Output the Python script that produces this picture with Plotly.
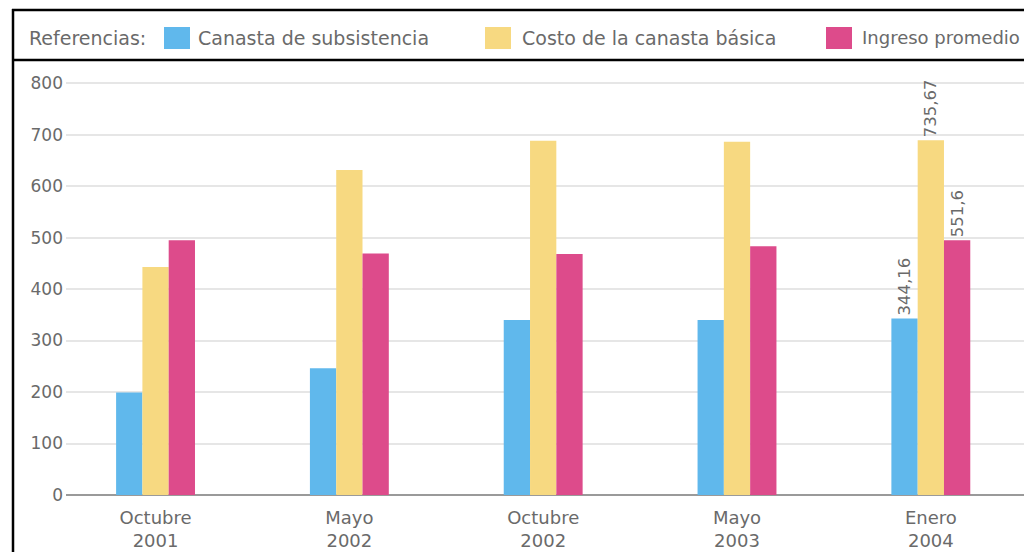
import plotly.graph_objects as go

# ---- data ----
categories = ["Octubre<br>2001", "Mayo<br>2002", "Octubre<br>2002", "Mayo<br>2003", "Enero<br>2004"]
canasta_subsistencia = [199, 246, 340, 340, 343]
costo_canasta_basica = [443, 631, 688, 686, 689]
ingreso_promedio = [495, 469, 468, 483, 495]
labels_subsistencia = ["", "", "", "", "344,16"]
labels_basica = ["", "", "", "", "735,67"]
labels_ingreso = ["", "", "", "", "551,6"]
y_ticks = [0, 100, 200, 300, 400, 500, 600, 700, 800]
series_names = ["Canasta de subsistencia", "Costo de la canasta básica", "Ingreso promedio"]
series_colors = ["#60b8ec", "#f7d981", "#dd4b8b"]
legend_title = "Referencias:"

# page body has an 8px margin, so the figure is sized to fit the window
OFF = 8
W, H = 1024, 544
ML, MR, MT, MB = 58, 0, 54, 57
PW, PH = W - ML - MR, H - MT - MB
TXT = "#6a6a6a"
FONT = "DejaVu Sans"


def px(x):
    # x given in window pixels
    return (x - OFF - ML) / PW


def py(y):
    # y given in window pixels
    return (H - MB - (y - OFF)) / PH


fig = go.Figure()
for vals, labs, name, col in zip(
    [canasta_subsistencia, costo_canasta_basica, ingreso_promedio],
    [labels_subsistencia, labels_basica, labels_ingreso],
    series_names,
    series_colors,
):
    fig.add_trace(
        go.Bar(
            x=categories,
            y=vals,
            name=name,
            marker=dict(color=col, line=dict(width=0)),
            text=labs,
            textposition="outside",
            textangle=-90,
            constraintext="none",
            textfont=dict(family=FONT, size=16.5, color=TXT),
            cliponaxis=False,
            hoverinfo="skip",
        )
    )

shapes = []
# frame lines
shapes.append(dict(type="line", xref="paper", yref="paper", x0=px(13), x1=px(13), y0=py(9), y1=py(570),
                   line=dict(color="black", width=2.5)))
shapes.append(dict(type="line", xref="paper", yref="paper", x0=px(12), x1=px(1050), y0=py(10), y1=py(10),
                   line=dict(color="black", width=2.5)))
shapes.append(dict(type="line", xref="paper", yref="paper", x0=px(12), x1=px(1050), y0=py(60), y1=py(60),
                   line=dict(color="black", width=2.5)))

annotations = [
    dict(text=legend_title, xref="paper", yref="paper", x=px(27), y=py(38), xanchor="left", yanchor="middle",
         showarrow=False, font=dict(family=FONT, size=19, color=TXT))
]
legend_sq_x = [164, 485, 826]
legend_txt_x = [196, 520, 860]
legend_font_sizes = [19, 19, 18]
for sx, tx, fs, name, col in zip(legend_sq_x, legend_txt_x, legend_font_sizes, series_names, series_colors):
    shapes.append(dict(type="rect", xref="paper", yref="paper", x0=px(sx), x1=px(sx + 26), y0=py(27), y1=py(49),
                       fillcolor=col, line=dict(width=0)))
    annotations.append(dict(text=name, xref="paper", yref="paper", x=px(tx), y=py(38), xanchor="left",
                            yanchor="middle", showarrow=False, font=dict(family=FONT, size=fs, color=TXT)))

fig.update_layout(
    width=W,
    height=H,
    margin=dict(l=ML, r=MR, t=MT, b=MB, pad=0),
    paper_bgcolor="white",
    plot_bgcolor="white",
    showlegend=False,
    barmode="group",
    bargap=0.593,
    bargroupgap=0,
    shapes=shapes,
    annotations=annotations,
    font=dict(family=FONT, color=TXT),
    xaxis=dict(
        type="category",
        range=[-0.462, 4.522],
        showgrid=False,
        showline=False,
        ticks="",
        tickfont=dict(family=FONT, size=18, color=TXT),
        ticklabelstandoff=10,
    ),
    yaxis=dict(
        range=[0, 841],
        tickvals=y_ticks,
        showgrid=True,
        gridcolor="#e6e6e6",
        gridwidth=1.5,
        zeroline=True,
        zerolinecolor="#9a9a9a",
        zerolinewidth=1.5,
        showline=False,
        ticks="",
        tickfont=dict(family=FONT, size=17, color=TXT),
        ticklabelstandoff=2,
    ),
)

fig.write_html("out.html")
